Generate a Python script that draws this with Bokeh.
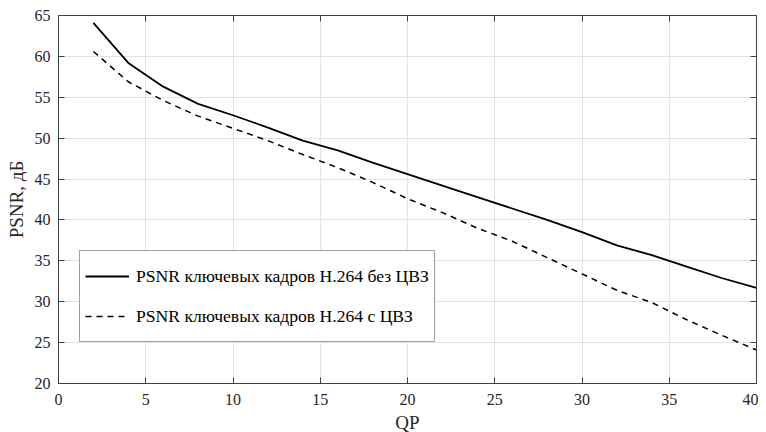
from bokeh.plotting import figure
from bokeh.models import Range1d, LinearAxis, FixedTicker, Legend, LegendItem, CustomJSTickFormatter
from bokeh.embed import file_html
from bokeh.resources import INLINE

qp = [2, 4, 6, 8, 10, 12, 14, 16, 18, 20, 22, 24, 26, 28, 30, 32, 34, 36, 38, 40]
psnr_no_wm = [64.1, 59.2, 56.3, 54.2, 52.8, 51.3, 49.7, 48.5, 47.0, 45.6,
              44.2, 42.8, 41.4, 40.0, 38.5, 36.9, 35.7, 34.3, 32.9, 31.7]
psnr_wm = [60.6, 56.9, 54.6, 52.7, 51.2, 49.7, 48.0, 46.4, 44.6, 42.6,
           40.9, 39.0, 37.4, 35.4, 33.4, 31.4, 29.9, 27.8, 25.9, 24.1]
x_ticks = [0, 5, 10, 15, 20, 25, 30, 35, 40]
y_ticks = [20, 25, 30, 35, 40, 45, 50, 55, 60, 65]
label_no_wm = "PSNR ключевых кадров H.264 без ЦВЗ"
label_wm = "PSNR ключевых кадров H.264 с ЦВЗ"
x_label = "QP"
y_label = "PSNR, дБ"

FONT = "Liberation Serif"
AX = "#404040"
TXT = "#262626"

p = figure(output_backend="svg", toolbar_location=None,
           frame_width=698, frame_height=368,
           min_border_left=58, min_border_right=2, min_border_top=15, min_border_bottom=48,
           x_range=Range1d(0, 40), y_range=Range1d(20, 65),
           x_axis_label=x_label, y_axis_label=y_label)
p.background_fill_color = "white"
p.border_fill_color = "white"
p.outline_line_color = AX

for ax, ticks in ((p.xaxis[0], x_ticks), (p.yaxis[0], y_ticks)):
    ax.ticker = FixedTicker(ticks=ticks)
    ax.major_tick_in = 6
    ax.major_tick_out = 0
    ax.minor_tick_in = 0
    ax.minor_tick_out = 0
    ax.axis_line_color = AX
    ax.major_tick_line_color = AX
    ax.major_label_text_font = FONT
    ax.major_label_text_font_size = "16px"
    ax.major_label_text_color = TXT
    ax.axis_label_text_font = FONT
    ax.axis_label_text_font_size = "19px"
    ax.axis_label_text_font_style = "normal"
    ax.axis_label_text_color = TXT
p.xaxis[0].major_label_standoff = 10
p.xaxis[0].axis_label_standoff = 4
p.yaxis[0].major_label_standoff = 8
p.yaxis[0].axis_label_standoff = 5

# mirror axes (ticks only) on top and right
for side, ticks in (("above", x_ticks), ("right", y_ticks)):
    ax = LinearAxis(ticker=FixedTicker(ticks=ticks),
                    formatter=CustomJSTickFormatter(code="return ''"),
                    major_tick_in=6, major_tick_out=0,
                    minor_tick_in=0, minor_tick_out=0,
                    axis_line_color=AX, major_tick_line_color=AX,
                    major_label_standoff=0, major_label_text_font_size="1px")
    p.add_layout(ax, side)

p.xgrid.ticker = FixedTicker(ticks=x_ticks)
p.ygrid.ticker = FixedTicker(ticks=y_ticks)
p.xgrid.grid_line_color = "#e3e3e3"
p.ygrid.grid_line_color = "#e3e3e3"

r1 = p.line(qp, psnr_no_wm, line_color="black", line_width=1.8)
r2 = p.line(qp, psnr_wm, line_color="black", line_width=1.5, line_dash="6 5")

legend = Legend(items=[LegendItem(label=label_no_wm, renderers=[r1]),
                       LegendItem(label=label_wm, renderers=[r2])],
                location=(21, 41), padding=5, spacing=0,
                label_height=40, glyph_height=40, glyph_width=44, label_standoff=7,
                label_text_font=FONT, label_text_font_size="17.6px", label_text_color="black",
                border_line_color=AX, border_line_width=1,
                background_fill_color="white", background_fill_alpha=1.0,
                margin=0)
p.add_layout(legend, "center")

open("out.html", "w").write(file_html(p, INLINE))
